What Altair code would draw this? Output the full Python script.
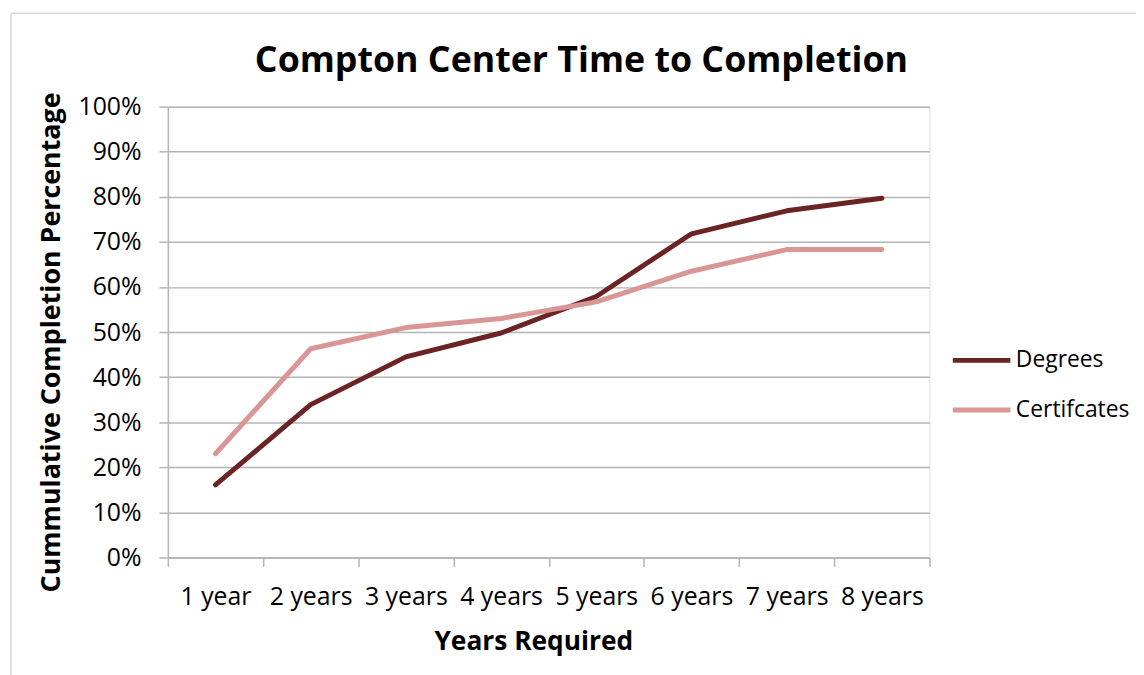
import altair as alt
import pandas as pd

years = ["1 year", "2 years", "3 years", "4 years", "5 years", "6 years", "7 years", "8 years"]
degrees = [0.161, 0.339, 0.445, 0.498, 0.579, 0.718, 0.769, 0.797]
certificates = [0.230, 0.463, 0.510, 0.530, 0.567, 0.635, 0.683, 0.683]
series_names = ["Degrees", "Certifcates"]
series_colors = ["#6B2323", "#D99694"]

rows = []
for y, d, c in zip(years, degrees, certificates):
    rows.append({"year": y, "series": "Degrees", "value": d})
    rows.append({"year": y, "series": "Certifcates", "value": c})
df = pd.DataFrame(rows)

FONT = "Open Sans"
GRID = "#B5B5B5"

lines = alt.Chart(df).mark_line(strokeWidth=5, strokeCap="round", strokeJoin="round").encode(
    x=alt.X("year:N", sort=years,
            scale=alt.Scale(type="band", paddingInner=0, paddingOuter=0),
            axis=alt.Axis(title="Years Required", labelAngle=0, tickBand="extent",
                          domainColor=GRID, tickColor=GRID, tickSize=9, tickWidth=1.5, domainWidth=1.5,
                          labelFont=FONT, labelFontSize=25, labelColor="black", labelPadding=18,
                          titleFont=FONT, titleFontSize=26.5, titleFontWeight="bold", titleColor="black",
                          titleX=368, titleY=85, titleBaseline="middle", grid=False)),
    y=alt.Y("value:Q", scale=alt.Scale(domain=[0, 1]),
            axis=alt.Axis(title="Cummulative Completion Percentage", format=".0%",
                          values=[i / 10 for i in range(11)],
                          domainColor=GRID, tickColor=GRID, tickSize=9, tickWidth=1.5, domainWidth=1.5,
                          gridColor=GRID, gridWidth=1.5,
                          labelFont=FONT, labelFontSize=25, labelColor="black", labelPadding=18,
                          titleFont=FONT, titleFontSize=27, titleFontWeight="bold", titleColor="black",
                          titleX=-117, titleY=237, titleBaseline="middle")),
    color=alt.Color("series:N", sort=series_names,
                    scale=alt.Scale(domain=series_names, range=series_colors),
                    legend=alt.Legend(title=None, orient="none", legendX=788, legendY=224,
                                      symbolType="stroke", symbolSize=3364, symbolStrokeWidth=5,
                                      labelFont=FONT, labelFontSize=23, labelColor="black",
                                      labelOffset=3, rowPadding=6)),
)

frame = alt.Chart(pd.DataFrame({"a": [0]})).mark_rule(color="#D9D9D9", strokeWidth=1.5).encode(
    x=alt.value(-158), x2=alt.value(1000), y=alt.value(-94)
)
frame_left = alt.Chart(pd.DataFrame({"a": [0]})).mark_rule(color="#D9D9D9", strokeWidth=1.5).encode(
    x=alt.value(-158), y=alt.value(-94), y2=alt.value(600)
)

chart = alt.layer(frame, frame_left, lines).properties(
    width=767, height=454,
    title=alt.TitleParams("Compton Center Time to Completion", font=FONT, fontSize=36,
                          fontWeight="bold", color="black", anchor="middle", offset=0,
                          baseline="alphabetic", dy=96, dx=33),
    autosize=alt.AutoSizeParams(type="none"),
    padding={"left": 161, "top": 97, "right": 208, "bottom": 116},
).configure_view(stroke=None).configure(background="white")

chart.save("out.html", embed_options={"renderer": "svg", "actions": False})
